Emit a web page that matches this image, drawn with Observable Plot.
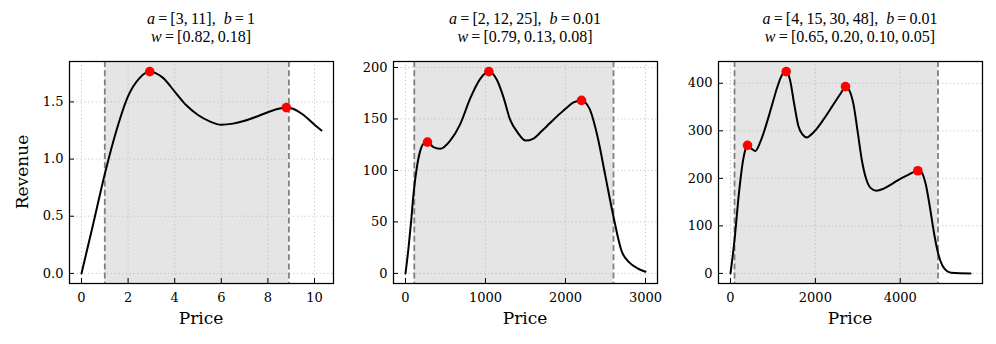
<!DOCTYPE html>
<html><head><meta charset="utf-8">
<script src="https://cdn.jsdelivr.net/npm/d3@7"></script>
<script src="https://cdn.jsdelivr.net/npm/@observablehq/plot@0.6"></script>
<style>
body{margin:0;background:#fff;}
#root{position:relative;width:996px;height:344px;overflow:hidden;background:#fff;}
.panel{position:absolute;top:0;}
#root svg text{font-family:"DejaVu Serif",serif !important;font-size:13px !important;fill:#000;}
.title{position:absolute;top:10px;font-family:"Liberation Serif","Times New Roman",serif;font-size:16px;line-height:18px;text-align:center;color:#000;white-space:nowrap;transform:translateX(-50%);}
.xlab{position:absolute;top:308px;font-family:"DejaVu Serif",serif;font-size:17px;line-height:20px;color:#000;transform:translateX(-50%);white-space:nowrap;}
.ylab{position:absolute;font-family:"DejaVu Serif",serif;font-size:17px;line-height:20px;color:#000;transform:translate(-50%,-50%) rotate(-90deg);white-space:nowrap;}
</style></head><body><div id="root"></div>
<script>
// ---- Panel 1: a=[3,11], b=1
const p1Price = [0, 0.5, 1, 1.5, 2, 2.5, 2.93, 3.2, 3.5, 4, 4.5, 5, 5.5, 6, 6.5, 7, 7.5, 8, 8.79, 9, 9.5, 10, 10.3];
const p1Revenue = [0, 0.43, 0.87, 1.25, 1.55, 1.71, 1.765, 1.75, 1.71, 1.59, 1.47, 1.385, 1.33, 1.30, 1.31, 1.335, 1.37, 1.41, 1.45, 1.445, 1.39, 1.30, 1.25];
const p1PeakPrice = [2.93, 8.79];
const p1PeakRevenue = [1.765, 1.45];
const p1Band = [1.0, 8.9];
const p1XTicks = [0, 2, 4, 6, 8, 10];
const p1YTicks = [0, 0.5, 1.0, 1.5];

// ---- Panel 2: a=[2,12,25], b=0.01
const p2Price = [0, 38, 71, 100, 142, 184, 225, 275, 350, 434, 559, 684, 809, 934, 1042, 1142, 1225, 1309, 1400, 1500, 1600, 1700, 1800, 1900, 2000, 2100, 2200, 2300, 2400, 2500, 2600, 2700, 2800, 2900, 3000];
const p2Revenue = [0, 25, 51, 77, 103, 119, 126, 127.5, 122.6, 121, 129, 145, 170, 189, 196, 188, 171, 149, 137, 129, 131, 138, 145.5, 153, 160, 166, 168, 160, 133, 94, 55, 22, 10.4, 4.9, 1.6];
const p2PeakPrice = [275, 1042, 2200];
const p2PeakRevenue = [127.5, 196, 168];
const p2Band = [110, 2600];
const p2XTicks = [0, 1000, 2000, 3000];
const p2YTicks = [0, 50, 100, 150, 200];

// ---- Panel 3: a=[4,15,30,48], b=0.01
const p3Price = [0, 50, 100, 200, 300, 350, 401, 500, 582, 700, 800, 900, 1000, 1100, 1200, 1313, 1400, 1500, 1600, 1700, 1800, 1900, 2000, 2200, 2400, 2600, 2710, 2800, 2900, 3000, 3100, 3200, 3300, 3440, 3600, 3800, 4000, 4200, 4415, 4500, 4600, 4700, 4800, 4900, 5000, 5100, 5200, 5400, 5656];
const p3Revenue = [0, 35, 75, 170, 240, 260, 269.5, 262, 257.5, 276, 301, 330, 361, 391, 415, 424.6, 408, 357, 310, 292, 286, 292, 301, 325, 352, 379, 393, 385, 355, 296, 236, 198, 180, 174, 178, 188, 199, 208, 216, 213, 188, 139, 83, 40, 15.5, 5, 1.4, 0.3, 0];
const p3PeakPrice = [401, 1313, 2710, 4415];
const p3PeakRevenue = [269.5, 424.6, 393, 216];
const p3Band = [95, 4890];
const p3XTicks = [0, 2000, 4000];
const p3YTicks = [0, 100, 200, 300, 400];

const titles = [
  ['<i>a</i>&thinsp;=&thinsp;[3,&thinsp;11],&nbsp; <i>b</i>&thinsp;=&thinsp;1', '<i>w</i>&thinsp;=&thinsp;[0.82,&thinsp;0.18]'],
  ['<i>a</i>&thinsp;=&thinsp;[2,&thinsp;12,&thinsp;25],&nbsp; <i>b</i>&thinsp;=&thinsp;0.01', '<i>w</i>&thinsp;=&thinsp;[0.79,&thinsp;0.13,&thinsp;0.08]'],
  ['<i>a</i>&thinsp;=&thinsp;[4,&thinsp;15,&thinsp;30,&thinsp;48],&nbsp; <i>b</i>&thinsp;=&thinsp;0.01', '<i>w</i>&thinsp;=&thinsp;[0.65,&thinsp;0.20,&thinsp;0.10,&thinsp;0.05]']
];

const root = document.getElementById("root");
const frameW = 264, frameH = 222, mTop = 61, mBottom = 61;

function padDomain(vals, frac) {
  const [lo, hi] = d3.extent(vals);
  const m = (hi - lo) * frac;
  return [lo - m, hi + m];
}

function makePanel(cfg) {
  const curve = cfg.price.map((p, i) => ({price: p, revenue: cfg.revenue[i]}));
  const peaks = cfg.peakPrice.map((p, i) => ({price: p, revenue: cfg.peakRevenue[i]}));
  const width = cfg.marginLeft + frameW + cfg.marginRight;
  const chart = Plot.plot({
    width, height: 344,
    marginLeft: cfg.marginLeft, marginRight: cfg.marginRight, marginTop: mTop, marginBottom: mBottom,
    style: {fontFamily: "DejaVu Serif, serif", fontSize: "13px", color: "black", background: "transparent"},
    x: {domain: padDomain(cfg.price, 0.05), ticks: cfg.xTicks, tickSize: 0, tickPadding: 9, tickFormat: cfg.xFmt, label: null},
    y: {domain: padDomain(cfg.revenue, 0.05), ticks: cfg.yTicks, tickSize: 0, tickPadding: 6, tickFormat: cfg.yFmt, label: null},
    marks: [
      Plot.rect([cfg.band], {x1: d => d[0], x2: d => d[1], fill: "#e5e5e5"}),
      Plot.ruleX(cfg.xTicks, {stroke: "#b8b8b8", strokeWidth: 0.8, strokeDasharray: "1.2,2.6"}),
      Plot.ruleY(cfg.yTicks, {stroke: "#b8b8b8", strokeWidth: 0.8, strokeDasharray: "1.2,2.6"}),
      Plot.ruleX(cfg.band, {stroke: "#808080", strokeWidth: 1.8, strokeDasharray: "6,3.2"}),
      Plot.line(curve, {x: "price", y: "revenue", stroke: "black", strokeWidth: 2, curve: "monotone-x"}),
      Plot.dot(peaks, {x: "price", y: "revenue", r: 4.8, fill: "#ff0000", stroke: "none"}),
      Plot.frame({stroke: "black", strokeWidth: 1.25}),
      Plot.tickX(cfg.xTicks, {x: d => d, insetTop: frameH - 5, stroke: "black", strokeWidth: 1}),
      Plot.tickY(cfg.yTicks, {y: d => d, insetRight: frameW - 5, stroke: "black", strokeWidth: 1})
    ]
  });
  const wrap = document.createElement("div");
  wrap.className = "panel";
  wrap.style.left = cfg.left + "px";
  wrap.appendChild(chart);
  root.appendChild(wrap);

  const cx = cfg.left + cfg.marginLeft + frameW / 2;
  const t = document.createElement("div");
  t.className = "title";
  t.style.left = cx + "px";
  t.innerHTML = cfg.title[0] + "<br>" + cfg.title[1];
  root.appendChild(t);

  const xl = document.createElement("div");
  xl.className = "xlab";
  xl.style.left = cx + "px";
  xl.textContent = "Price";
  root.appendChild(xl);
}

const intFmt = d3.format("d");
makePanel({price: p1Price, revenue: p1Revenue, peakPrice: p1PeakPrice, peakRevenue: p1PeakRevenue, band: p1Band,
  xTicks: p1XTicks, yTicks: p1YTicks, xFmt: intFmt, yFmt: d3.format(".1f"), left: 0, marginLeft: 69, marginRight: 8, title: titles[0]});
makePanel({price: p2Price, revenue: p2Revenue, peakPrice: p2PeakPrice, peakRevenue: p2PeakRevenue, band: p2Band,
  xTicks: p2XTicks, yTicks: p2YTicks, xFmt: intFmt, yFmt: intFmt, left: 333, marginLeft: 60, marginRight: 10, title: titles[1]});
makePanel({price: p3Price, revenue: p3Revenue, peakPrice: p3PeakPrice, peakRevenue: p3PeakRevenue, band: p3Band,
  xTicks: p3XTicks, yTicks: p3YTicks, xFmt: intFmt, yFmt: intFmt, left: 660, marginLeft: 58, marginRight: 12, title: titles[2]});

const yl = document.createElement("div");
yl.className = "ylab";
yl.style.left = "22px";
yl.style.top = "172px";
yl.textContent = "Revenue";
root.appendChild(yl);
</script></body></html>
